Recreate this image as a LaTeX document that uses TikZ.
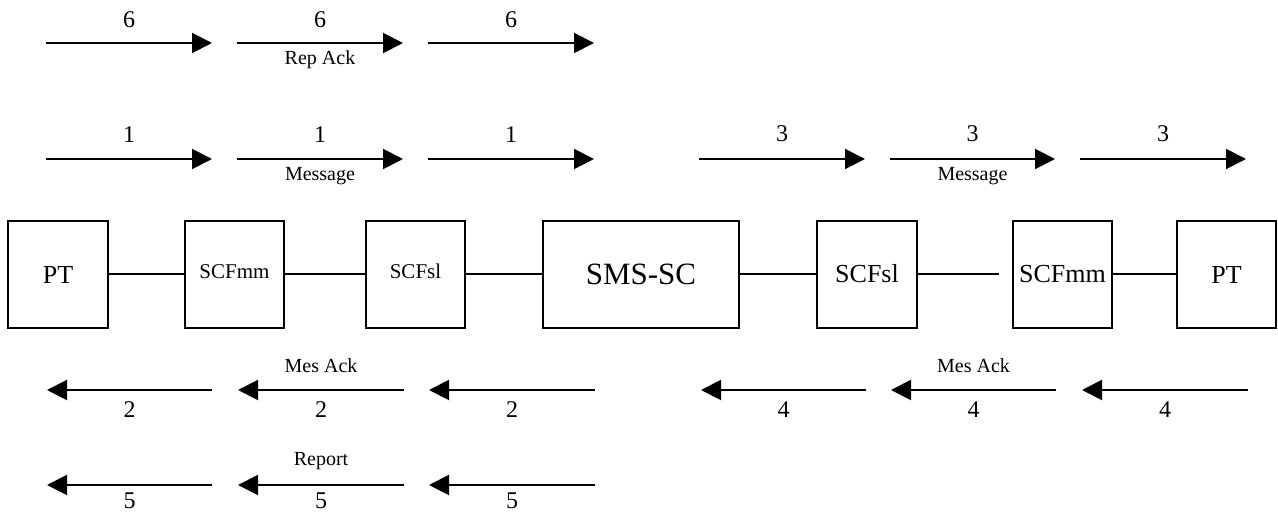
\documentclass[tikz,border=0pt]{standalone}
\usepackage{fontspec}
\setmainfont{Liberation Serif}
\usetikzlibrary{arrows.meta}
\begin{document}
\begin{tikzpicture}[x=1pt,y=-1pt,
  box/.style={draw, line width=2pt, minimum height=107pt, inner sep=0pt, align=center},
  link/.style={line width=2pt},
  flow/.style={line width=2pt, -{Triangle[length=20pt,width=20pt]}},
  num/.style={font=\fontsize{24}{24}\selectfont, inner sep=0pt},
  lab/.style={font=\fontsize{20}{20}\selectfont, inner sep=0pt},
  big/.style={font=\fontsize{26}{26}\selectfont},
  small/.style={font=\fontsize{21}{21}\selectfont}]
\useasboundingbox (0,0) rectangle (1278,513);

% boxes
\node[box, big, minimum width=100pt] (ptL) at (58,274.5) {PT};
\node[box, small, minimum width=99pt] (mmL) at (234.5,274.5) {\raisebox{6pt}{SCFmm}};
\node[box, small, minimum width=99pt] (slL) at (415.5,274.5) {\raisebox{6pt}{SCFsl}};
\node[box, font=\fontsize{31}{31}\selectfont, minimum width=196pt] (sms) at (641,274.5) {SMS-SC};
\node[box, big, minimum width=100pt] (slR) at (867,274.5) {\raisebox{3pt}{SCFsl}};
\node[box, big, minimum width=99pt] (mmR) at (1062.5,274.5) {SCFmm};
\node[box, big, minimum width=99pt] (ptR) at (1226.5,274.5) {PT};
\coordinate (gap) at (999,274.5);

% links
\draw[link] (ptL) -- (mmL);
\draw[link] (mmL) -- (slL);
\draw[link] (slL) -- (sms);
\draw[link] (sms) -- (slR);
\draw[link] (slR) -- (gap);
\draw[link] (mmR) -- (ptR);

% row 6 (right-pointing)
\foreach \n/\a/\b in {a/46/212, b/237/403, c/428/594} {
  \coordinate (r6\n s) at (\a,43); \coordinate (r6\n e) at (\b,43);
  \draw[flow] (r6\n s) -- (r6\n e) node[midway, num, yshift=23pt] {6};
}
\path (r6bs) -- (r6be) node[midway, lab, yshift=-17pt] (repack) {Rep Ack};

% row 1 (right-pointing)
\foreach \n/\a/\b in {a/46/212, b/237/403, c/428/594} {
  \coordinate (r1\n s) at (\a,159); \coordinate (r1\n e) at (\b,159);
  \draw[flow] (r1\n s) -- (r1\n e) node[midway, num, yshift=24pt] {1};
}
\path (r1bs) -- (r1be) node[midway, lab, yshift=-17pt] (msg1) {Message};

% row 3 (right-pointing)
\foreach \n/\a/\b in {a/699/865, b/890/1055, c/1080/1246} {
  \coordinate (r3\n s) at (\a,159); \coordinate (r3\n e) at (\b,159);
  \draw[flow] (r3\n s) -- (r3\n e) node[midway, num, yshift=25pt] {3};
}
\path (r3bs) -- (r3be) node[midway, lab, yshift=-17pt] (msg3) {Message};

% row 2 (left-pointing)
\foreach \n/\a/\b in {a/212/47, b/404/238, c/595/429} {
  \coordinate (r2\n s) at (\a,390); \coordinate (r2\n e) at (\b,390);
  \draw[flow] (r2\n s) -- (r2\n e) node[midway, num, yshift=-20pt] {2};
}
\path (r2bs) -- (r2be) node[midway, lab, yshift=24pt] (mesack2) {Mes Ack};

% row 4 (left-pointing)
\foreach \n/\a/\b in {a/866/701, b/1056/891, c/1248/1082} {
  \coordinate (r4\n s) at (\a,390); \coordinate (r4\n e) at (\b,390);
  \draw[flow] (r4\n s) -- (r4\n e) node[midway, num, yshift=-20pt] {4};
}
\path (r4bs) -- (r4be) node[midway, lab, yshift=24pt] (mesack4) {Mes Ack};

% row 5 (left-pointing)
\foreach \n/\a/\b in {a/212/47, b/404/238, c/595/429} {
  \coordinate (r5\n s) at (\a,485); \coordinate (r5\n e) at (\b,485);
  \draw[flow] (r5\n s) -- (r5\n e) node[midway, num, yshift=-16pt] {5};
}
\path (r5bs) -- (r5be) node[midway, lab, yshift=24pt] (report) {Report};
\end{tikzpicture}
\end{document}
